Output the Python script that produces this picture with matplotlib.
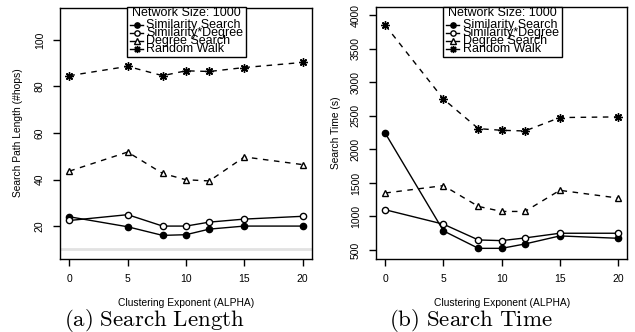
import matplotlib
matplotlib.use("Agg")
import matplotlib.pyplot as plt
from matplotlib.lines import Line2D
from matplotlib.patches import Rectangle

plt.rcParams['font.family'] = ['Liberation Sans', 'DejaVu Sans']
plt.rcParams['mathtext.fontset'] = 'cm'

alpha = [0, 5, 8, 10, 12, 15, 20]

# (a) search path length (#hops)
len_sim = [24, 19.7, 16, 16.3, 18.7, 20, 20]
len_simdeg = [22.4, 24.9, 20, 20, 21.7, 23, 24.2]
len_deg = [43.6, 51.8, 42.6, 39.9, 39.4, 49.7, 46.4]
len_rw = [84.6, 88.6, 84.6, 86.7, 86.4, 88.1, 90.3]

# (b) search time (s)
time_sim = [2240, 785, 525, 525, 590, 710, 675]
time_simdeg = [1100, 885, 650, 640, 680, 750, 750]
time_deg = [1350, 1460, 1150, 1075, 1075, 1390, 1275]
time_rw = [3850, 2750, 2310, 2285, 2275, 2475, 2485]

names = ["Similarity Search", "Similarity*Degree", "Degree Search", "Random Walk"]
legend_title = "Network Size: 1000"

W, H = 635, 332
fig = plt.figure(figsize=(W / 100, H / 100), dpi=100)


def fx(x):
    return x / W


def fy(y):
    return 1 - y / H


ax1 = fig.add_axes([fx(60), fy(259), 252 / W, 251.3 / H])
ax2 = fig.add_axes([fx(376), fy(259), 251.3 / W, 252.3 / H])

star = (8, 2, 0)
styles = [
    dict(marker='o', ls='-', mfc='black', ms=4.5),
    dict(marker='o', ls='-', mfc='white', ms=4.5),
    dict(marker='^', ls=(0, (4, 4)), mfc='white', ms=5),
    dict(marker=star, ls=(0, (4, 4)), mfc='black', ms=6),
]


def draw(ax, series):
    for vals, st in zip(series, styles):
        ax.plot(alpha, vals, color='black', lw=1.0, mec='black', mew=1.0, **st)
    ax.set_xlim(-0.8, 20.8)
    ax.set_xticks([0, 5, 10, 15, 20])
    ax.tick_params(direction='out', length=5, width=1, labelsize=7.5, pad=6)
    ax.tick_params(axis='y', labelrotation=90)
    for lab in ax.get_yticklabels():
        lab.set_va('center')
    for sp in ax.spines.values():
        sp.set_linewidth(1.0)


def legend_box(left):
    # R-style legend with tight line spacing, drawn in figure pixels
    fig.add_artist(Rectangle((fx(left), fy(56.7)), 119.5 / W, 49.5 / H,
                             transform=fig.transFigure, fill=True, facecolor='white',
                             edgecolor='black', lw=1.0, zorder=5))
    fig.text(fx(left + 60), fy(13.5), legend_title, ha='center', va='center',
             fontsize=9.0, zorder=6)
    rows = [25, 32.6, 40.6, 48.9]
    for st, nm, y in zip(styles, names, rows):
        fig.add_artist(Line2D([fx(left + 3.5), fx(left + 16.5)], [fy(y), fy(y)],
                              transform=fig.transFigure, color='black', lw=1.0,
                              zorder=6, ls='-'))
        fig.add_artist(Line2D([fx(left + 10)], [fy(y)], transform=fig.transFigure,
                              color='black', marker=st['marker'], ms=st['ms'] * 0.85,
                              mfc=st['mfc'], mec='black', mew=1.0, ls='none',
                              zorder=7))
        fig.text(fx(left + 20), fy(y), nm, ha='left', va='center', fontsize=9.0,
                 zorder=6)


ax1.axhline(10, color='#e2e2e2', lw=2, zorder=0)
draw(ax1, [len_sim, len_simdeg, len_deg, len_rw])
ax1.set_ylim(5.86, 113.8)
ax1.set_yticks([20, 40, 60, 80, 100])

draw(ax2, [time_sim, time_simdeg, time_deg, time_rw])
ax2.set_ylim(366, 4128)
ax2.set_yticks([500, 1000, 1500, 2000, 2500, 3000, 3500, 4000])

legend_box(126.5)
legend_box(442.7)

fig.text(fx(18), fy(133), "Search Path Length (#hops)", rotation=90,
         ha='center', va='center', fontsize=7.4)
fig.text(fx(336), fy(133), "Search Time (s)", rotation=90,
         ha='center', va='center', fontsize=7.4)
fig.text(fx(186), fy(302.7), "Clustering Exponent (ALPHA)", ha='center', va='center', fontsize=7.4)
fig.text(fx(502), fy(302.7), "Clustering Exponent (ALPHA)", ha='center', va='center', fontsize=7.4)
fig.text(fx(154), fy(325.5), r"$\mathrm{(a)\ Search\ Length}$", ha='center', va='baseline', fontsize=16.5)
fig.text(fx(471), fy(325.5), r"$\mathrm{(b)\ Search\ Time}$", ha='center', va='baseline', fontsize=16.5)

fig.savefig("out.png", dpi=100)
